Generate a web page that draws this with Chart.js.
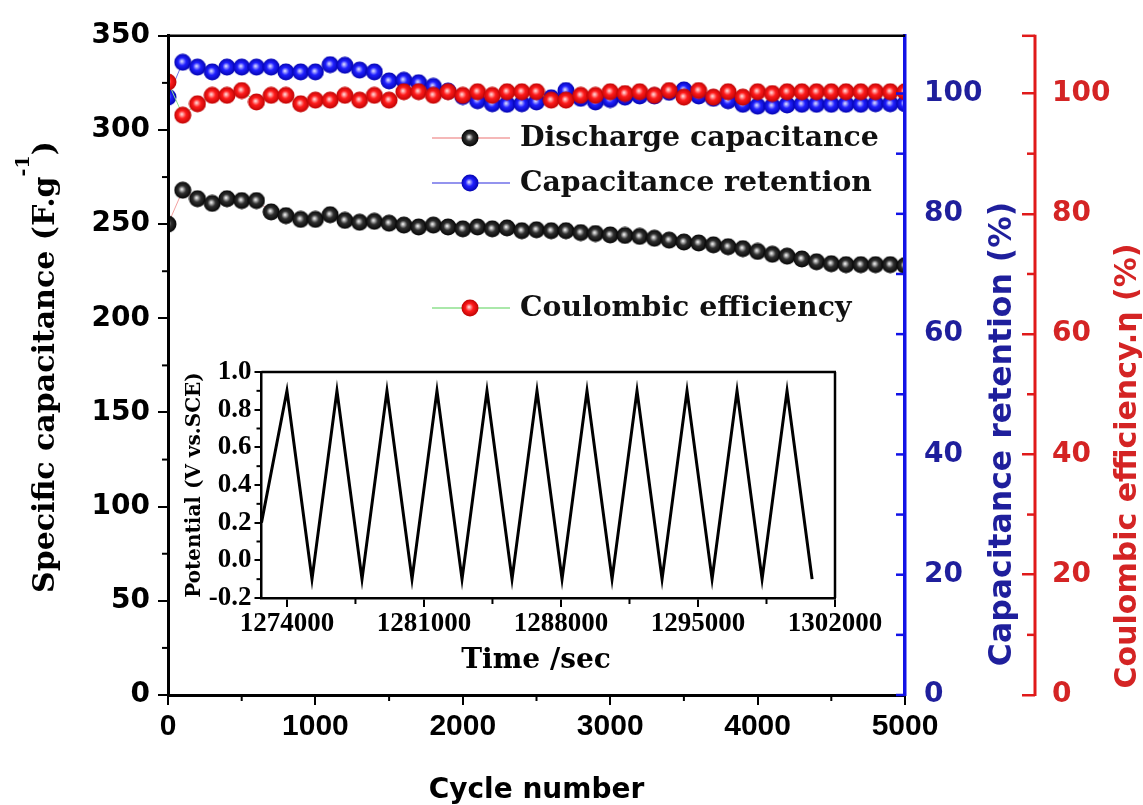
<!DOCTYPE html>
<html>
<head>
<meta charset="utf-8">
<script src="https://cdn.jsdelivr.net/npm/chart.js@4.4.0/dist/chart.umd.min.js"></script>
<style>
  html, body { margin: 0; padding: 0; background: #fff; }
  #wrap { position: relative; width: 1143px; height: 805px; }
  #main { position: absolute; left: 0; top: 0; }
  #inset { position: absolute; left: 170px; top: 330px; }
</style>
</head>
<body>
<div id="wrap">
  <canvas id="main" width="1143" height="805"></canvas>
  <canvas id="inset" width="720" height="360"></canvas>
</div>
<script>
// cycle number of every measured point
const cycles = [0, 100, 200, 300, 400, 500, 600, 700, 800, 900,
  1000, 1100, 1200, 1300, 1400, 1500, 1600, 1700, 1800, 1900,
  2000, 2100, 2200, 2300, 2400, 2500, 2600, 2700, 2800, 2900,
  3000, 3100, 3200, 3300, 3400, 3500, 3600, 3700, 3800, 3900,
  4000, 4100, 4200, 4300, 4400, 4500, 4600, 4700, 4800, 4900, 5000];

// specific capacitance, F/g
const discharge = [250, 268, 263.5, 261, 263.5, 262.5, 262.5, 256.5, 254.5, 252.5,
  252.5, 255, 252, 251, 251.5, 250.5, 249.5, 248.5, 249.5, 248.5,
  247.5, 248.5, 247.5, 248, 246.5, 247, 246.5, 246.5, 245.5, 245,
  244.3, 244, 243.5, 242.5, 241.5, 240.5, 240, 239, 238, 237,
  235.5, 234, 233, 231.5, 230, 229, 228.5, 228.5, 228.5, 228.5, 228];

// capacitance retention, %
const retention = [99.4, 105.2, 104.4, 103.6, 104.4, 104.4, 104.4, 104.4, 103.6, 103.6,
  103.6, 104.8, 104.7, 103.9, 103.6, 102.1, 102.2, 101.8, 101.2, 100.4,
  99.5, 98.8, 98.3, 98.2, 98.3, 98.6, 99.3, 100.5, 99.2, 98.6,
  99.0, 99.4, 99.6, 99.6, 100.2, 100.6, 99.6, 99.2, 98.8, 98.2,
  97.9, 97.9, 98.1, 98.2, 98.2, 98.2, 98.2, 98.2, 98.3, 98.3, 98.3];

// coulombic efficiency, %
const coulombic = [101.9, 96.4, 98.3, 99.7, 99.7, 100.5, 98.6, 99.7, 99.7, 98.3,
  98.9, 98.9, 99.7, 98.9, 99.7, 98.9, 100.3, 100.3, 99.7, 100.3,
  99.7, 100.3, 99.7, 100.3, 100.3, 100.3, 98.9, 98.9, 99.7, 99.7,
  100.3, 100, 100.3, 99.7, 100.5, 99.4, 100.5, 99.4, 100.3, 99.4,
  100.3, 100, 100.3, 100.3, 100.3, 100.3, 100.3, 100.3, 100.3, 100.3, 100.3];

// inset: galvanostatic charge/discharge curve
const insetTime = [1272700, 1274000, 1275280, 1276555, 1277835, 1279110, 1280390,
  1281665, 1282945, 1284220, 1285500, 1286775, 1288055, 1289330, 1290610,
  1291885, 1293165, 1294440, 1295720, 1296995, 1298275, 1299550, 1300830];
const insetPotential = [0.2, 0.9, -0.1, 0.9, -0.1, 0.9, -0.1,
  0.9, -0.1, 0.9, -0.1, 0.9, -0.1, 0.9, -0.1,
  0.9, -0.1, 0.9, -0.1, 0.9, -0.1, 0.9, -0.1];
const insetTimeTicks = [1274000, 1281000, 1288000, 1295000, 1302000];
const insetPotentialTicks = [-0.2, 0, 0.2, 0.4, 0.6, 0.8, 1.0];

const legendLabels = ['Discharge capacitance', 'Capacitance retention', 'Coulombic efficiency'];

const BLUE_AXIS = '#1212e6', BLUE_TEXT = '#1f1f9c';
const RED_AXIS = '#e01a1a', RED_TEXT = '#d42424';

function sphere(light, mid, dark) {
  const size = 18;
  const c = document.createElement('canvas');
  c.width = size; c.height = size;
  const g = c.getContext('2d');
  const r = size / 2;
  const grad = g.createRadialGradient(r - 1, r - 1, 0.5, r, r, r);
  grad.addColorStop(0, light);
  grad.addColorStop(0.4, mid);
  grad.addColorStop(1, dark);
  g.fillStyle = grad;
  g.beginPath();
  g.arc(r, r, r - 0.5, 0, Math.PI * 2);
  g.fill();
  return c;
}
const blackBall = sphere('#e8e8e8', '#303030', '#000000');
const blueBall = sphere('#d0d0ff', '#2020ff', '#0000a8');
const redBall = sphere('#ffd0d0', '#ff1c1c', '#b80000');

function pts(xs, ys) {
  return xs.map((x, i) => ({x: x, y: ys[i]}));
}

function midValues(scale) {
  const t = scale.ticks.map(k => k.value);
  const out = [];
  for (let i = 0; i < t.length - 1; i++) out.push((t[i] + t[i + 1]) / 2);
  return out;
}

function seg(ctx, x1, y1, x2, y2, color, w) {
  ctx.strokeStyle = color;
  ctx.lineWidth = w;
  ctx.beginPath();
  ctx.moveTo(x1, y1);
  ctx.lineTo(x2, y2);
  ctx.stroke();
}

function rotText(ctx, text, x, y, font, color) {
  ctx.save();
  ctx.translate(x, y);
  ctx.rotate(-Math.PI / 2);
  ctx.font = font;
  ctx.fillStyle = color;
  ctx.textAlign = 'center';
  ctx.textBaseline = 'middle';
  ctx.fillText(text, 0, 0);
  ctx.restore();
}

const mainDecor = {
  id: 'mainDecor',
  afterDraw(chart) {
    const {ctx, chartArea: a, scales} = chart;
    const {x, y, y2, y3} = scales;
    ctx.save();
    // top frame
    seg(ctx, a.left - 1, a.top, a.right, a.top, '#000', 2.5);
    // minor ticks
    midValues(x).forEach(v => {
      const px = x.getPixelForValue(v);
      seg(ctx, px, a.bottom, px, a.bottom + 6, '#000', 2);
    });
    midValues(y).forEach(v => {
      const py = y.getPixelForValue(v);
      seg(ctx, a.left - 6, py, a.left, py, '#000', 2);
    });
    // blue axis ticks point inwards
    y2.ticks.map(t => t.value).concat(midValues(y2)).forEach(v => {
      const py = y2.getPixelForValue(v);
      seg(ctx, a.right - 9, py, a.right, py, BLUE_AXIS, 2.5);
    });
    // red axis line sits at the end of its ticks
    const rx = y3.left + 13;
    seg(ctx, rx, a.top - 1, rx, a.bottom + 1, RED_AXIS, 3);
    seg(ctx, rx - 13, a.top, rx, a.top, RED_AXIS, 2.5);
    midValues(y3).forEach(v => {
      const py = y3.getPixelForValue(v);
      seg(ctx, rx - 8, py, rx, py, RED_AXIS, 2.5);
    });

    // left title with superscript
    ctx.save();
    ctx.translate(46, 367);
    ctx.rotate(-Math.PI / 2);
    ctx.fillStyle = '#000';
    ctx.textBaseline = 'middle';
    const big = 'bold 30px "DejaVu Serif"', small = 'bold 19px "DejaVu Serif"';
    const parts = [['Specific capacitance (F.g', big, 0], ['-1', small, -22], [')', big, 0]];
    let total = 0;
    parts.forEach(p => { ctx.font = p[1]; total += ctx.measureText(p[0]).width; });
    let cx = -total / 2;
    parts.forEach(p => {
      ctx.font = p[1];
      ctx.fillText(p[0], cx, p[2]);
      cx += ctx.measureText(p[0]).width;
    });
    ctx.restore();

    rotText(ctx, 'Capacitance retention (%)', 1003, 434, 'bold 31.5px "DejaVu Sans"', BLUE_TEXT);
    rotText(ctx, 'Coulombic efficiency.\u03b7 (%)', 1128, 466, 'bold 30px "DejaVu Sans"', RED_TEXT);

    // legend
    const rows = [
      {y: 138, line: '#f2a0a0', ball: blackBall},
      {y: 183, line: '#7070e8', ball: blueBall},
      {y: 308, line: '#8ee08e', ball: redBall}
    ];
    rows.forEach((r, i) => {
      seg(ctx, 432, r.y, 510, r.y, r.line, 1.5);
      ctx.drawImage(r.ball, 470 - r.ball.width / 2, r.y - r.ball.height / 2);
      ctx.font = 'bold 28.3px "DejaVu Serif"';
      ctx.fillStyle = '#111';
      ctx.textAlign = 'left';
      ctx.textBaseline = 'middle';
      ctx.fillText(legendLabels[i], 520, r.y + 1);
    });
    ctx.restore();
  }
};

const xTickFont = {family: '"Liberation Sans", Arial, sans-serif', weight: 'bold', size: 30};
const yTickFont = {family: '"DejaVu Sans", sans-serif', weight: 'bold', size: 28};

new Chart(document.getElementById('main'), {
  type: 'line',
  data: {
    datasets: [
      {
        label: legendLabels[2], data: pts(cycles, coulombic), yAxisID: 'y3', order: 1,
        borderColor: '#8ee08e', borderWidth: 1, pointStyle: redBall, pointRadius: 9, tension: 0
      },
      {
        label: legendLabels[1], data: pts(cycles, retention), yAxisID: 'y2', order: 2,
        borderColor: '#7070e8', borderWidth: 1, pointStyle: blueBall, pointRadius: 9, tension: 0
      },
      {
        label: legendLabels[0], data: pts(cycles, discharge), yAxisID: 'y', order: 3,
        borderColor: '#f2a0a0', borderWidth: 1, pointStyle: blackBall, pointRadius: 9, tension: 0
      }
    ]
  },
  options: {
    responsive: false,
    animation: false,
    events: [],
    layout: {padding: {top: 31, left: 0, right: 0, bottom: 0}},
    plugins: {legend: {display: false}, tooltip: {enabled: false}},
    scales: {
      x: {
        type: 'linear', min: 0, max: 5000,
        ticks: {stepSize: 1000, color: '#000', font: xTickFont, padding: 4, maxRotation: 0,
          callback: v => String(v)},
        grid: {drawOnChartArea: false, tickLength: 10, color: '#000', lineWidth: 2},
        border: {color: '#000', width: 3, z: 1},
        title: {display: true, text: 'Cycle number', color: '#000',
          font: {family: '"DejaVu Sans"', weight: 'bold', size: 28, lineHeight: 1},
          padding: {top: 0, bottom: 0}},
        afterFit: s => { s.height = 110; }
      },
      y: {
        position: 'left', min: 0, max: 350,
        ticks: {stepSize: 50, color: '#000', font: yTickFont, padding: 8},
        grid: {drawOnChartArea: false, tickLength: 10, color: '#000', lineWidth: 2},
        border: {color: '#000', width: 3, z: 1},
        afterFit: s => { s.width = 168; }
      },
      y2: {
        position: 'right', min: 0, max: 109.6,
        ticks: {stepSize: 20, includeBounds: false, color: BLUE_TEXT, font: yTickFont, padding: 19},
        grid: {drawOnChartArea: false, drawTicks: false},
        border: {color: BLUE_AXIS, width: 3.5, z: 1},
        afterFit: s => { s.width = 117; }
      },
      y3: {
        position: 'right', min: 0, max: 109.6,
        ticks: {stepSize: 20, includeBounds: false, color: RED_TEXT, font: yTickFont, padding: 17},
        grid: {drawOnChartArea: false, tickLength: 13, color: RED_AXIS, lineWidth: 2.5},
        border: {display: false},
        afterFit: s => { s.width = 121; }
      }
    }
  },
  plugins: [mainDecor]
});

const insetDecor = {
  id: 'insetDecor',
  afterDraw(chart) {
    const {ctx, chartArea: a, scales: {x, y}} = chart;
    ctx.save();
    seg(ctx, a.left, a.top, a.right + 1, a.top, '#000', 2.5);
    seg(ctx, a.right, a.top, a.right, a.bottom, '#000', 2.5);
    midValues(x).forEach(v => {
      const px = x.getPixelForValue(v);
      seg(ctx, px, a.bottom, px, a.bottom + 6, '#000', 2);
    });
    midValues(y).forEach(v => {
      const py = y.getPixelForValue(v);
      seg(ctx, a.left - 5, py, a.left, py, '#000', 2);
    });
    ctx.font = 'bold 28px "DejaVu Serif"';
    ctx.fillStyle = '#000';
    ctx.textAlign = 'center';
    ctx.textBaseline = 'middle';
    ctx.fillText('Time /sec', 366, 331);
    rotText(ctx, 'Potential (V vs.SCE)', 25, 155, 'bold 20px "DejaVu Serif"', '#000');
    ctx.restore();
  }
};

const insetFont = {family: '"Liberation Serif", "Times New Roman", serif', weight: 'bold', size: 27};

new Chart(document.getElementById('inset'), {
  type: 'line',
  data: {
    datasets: [{
      data: pts(insetTime, insetPotential),
      borderColor: '#000', borderWidth: 3, pointRadius: 0, tension: 0
    }]
  },
  options: {
    responsive: false,
    animation: false,
    events: [],
    layout: {padding: {top: 42, right: 55, left: 0, bottom: 0}},
    plugins: {legend: {display: false}, tooltip: {enabled: false}},
    scales: {
      x: {
        type: 'linear', min: 1272700, max: 1302000,
        afterBuildTicks: s => { s.ticks = insetTimeTicks.map(v => ({value: v})); },
        ticks: {color: '#000', font: insetFont, padding: 1, maxRotation: 0, autoSkip: false,
          callback: v => String(v)},
        grid: {drawOnChartArea: false, tickLength: 9, color: '#000', lineWidth: 2},
        border: {color: '#000', width: 2.5},
        afterFit: s => { s.height = 92; s.paddingLeft = 0; s.paddingRight = 0; }
      },
      y: {
        min: -0.2, max: 1.0,
        afterBuildTicks: s => { s.ticks = insetPotentialTicks.map(v => ({value: v})); },
        ticks: {color: '#000', font: insetFont, padding: 3, autoSkip: false,
          callback: v => Number(v).toFixed(1)},
        grid: {drawOnChartArea: false, tickLength: 7, color: '#000', lineWidth: 2},
        border: {color: '#000', width: 2.5},
        afterFit: s => { s.width = 91.5; s.paddingTop = 0; s.paddingBottom = 0; }
      }
    }
  },
  plugins: [insetDecor]
});
</script>
</body>
</html>
